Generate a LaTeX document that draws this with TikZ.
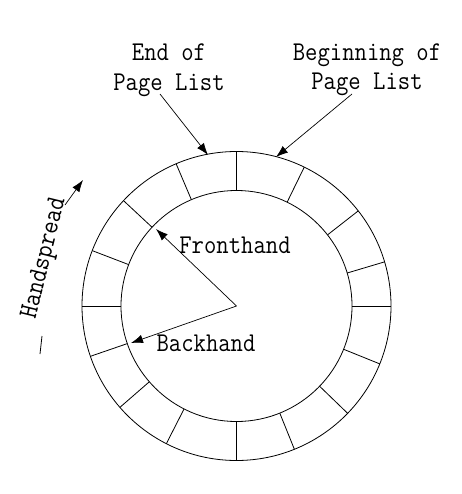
\documentclass[tikz,border=0pt]{standalone}
\usepackage{fontspec}
\usetikzlibrary{arrows.meta,calc}
\newcommand{\tallt}[1]{\scalebox{1}[1.13]{#1}}
\tikzset{
  lbl/.style={font=\fontsize{24}{29}\selectfont\ttfamily, inner sep=0pt, align=center},
  ptr/.style={-{Latex[length=12pt,width=8.5pt]}, line width=0.7pt},
  ring/.style={line width=0.8pt},
}
\begin{document}
\begin{tikzpicture}[x=1pt,y=-1pt]
\useasboundingbox (0,0) rectangle (461,494);
\coordinate (c) at (236.5,306);
% ring
\draw[ring] (c) circle[radius=154.5];
\draw[ring] (c) circle[radius=115.5];
\foreach \a in {90,64,38,16.6,0,-22,-44,-68,-90,-117,-139,-161,180,159,137,113}
  \draw[ring] ($(c)+(\a:115.5pt)$) -- ($(c)+(\a:154.5pt)$);
% labels
\node[lbl, anchor=base] (endA) at (169,61) {\tallt{End of}};
\node[lbl, anchor=base] (endB) at (169,91) {\tallt{Page List}};
\node[lbl, anchor=base] (begA) at (367,61) {\tallt{Beginning of}};
\node[lbl, anchor=base] (begB) at (367,90) {\tallt{Page List}};
\node[lbl, anchor=base] (front) at (235,253) {\tallt{Fronthand}};
\node[lbl, anchor=base] (back) at (206,351) {\tallt{Backhand}};
\node[lbl, rotate=76.3] (hs) at (45,258) {\tallt{Handspread}};
% arrow ends
\coordinate (endT) at (160,94);
\coordinate (endH) at (208,155);
\coordinate (begT) at (352,94);
\coordinate (begH) at (276,157);
\coordinate (frontH) at (156,229);
\coordinate (backH) at (131,343);
\coordinate (hsT) at (65,205);
\coordinate (hsH) at (83,180);
\coordinate (dashA) at (40,354);
\coordinate (dashB) at (42,336);
\draw[ptr] (endT) -- (endH);
\draw[ptr] (begT) -- (begH);
\draw[ptr] (c) -- (frontH);
\draw[ptr] (c) -- (backH);
\draw[ptr] (hsT) -- (hsH);
\draw[line width=0.8pt] (dashA) -- (dashB);
\end{tikzpicture}
\end{document}
